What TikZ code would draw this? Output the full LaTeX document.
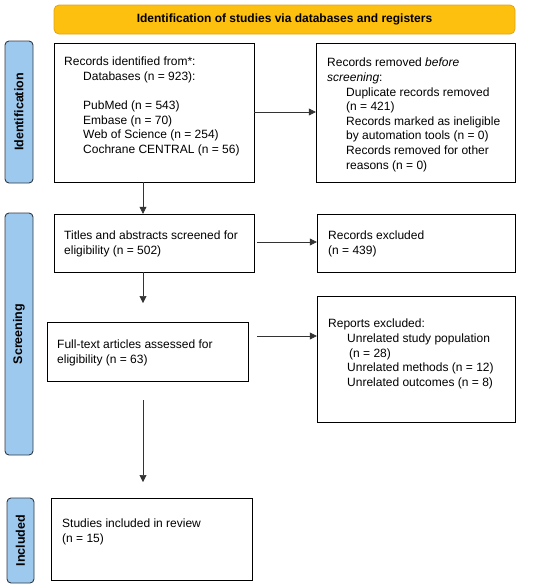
\documentclass[tikz,border=0pt]{standalone}
\usepackage{fontspec}
\setmainfont{Liberation Sans}
\usetikzlibrary{arrows.meta}
\definecolor{bannerfill}{HTML}{FDC00F}
\definecolor{bannerline}{HTML}{E3A317}
\definecolor{sidefill}{HTML}{9DC9EE}
\definecolor{sideline}{HTML}{2F3A45}
\begin{document}
\begin{tikzpicture}[x=1pt,y=-1pt,
  box/.style={draw=black, line width=0.9pt, fill=white},
  txt/.style={anchor=north west, align=left, font=\fontsize{12}{14.6}\selectfont, inner sep=0pt},
  side/.style={draw=sideline, line width=0.9pt, fill=sidefill, rounded corners=4pt},
  sidetxt/.style={rotate=90, font=\fontsize{12.5}{14}\selectfont\bfseries},
  arr/.style={draw=black!80, line width=0.6pt, -{Triangle[length=7pt,width=7pt]}}]
\useasboundingbox (0,0) rectangle (550,587);
% banner
\draw[draw=bannerline, fill=bannerfill, line width=0.8pt, rounded corners=5pt] (54,5) rectangle (515,34);
\node[font=\fontsize{12}{14}\selectfont\bfseries] (banner) at (284.5,19.5) {Identification of studies via databases and registers};
% side labels
\draw[side] (5,41) rectangle (33,183);
\node[sidetxt] (lid) at (19,112) {Identification};
\draw[side] (5,213) rectangle (33,455);
\node[sidetxt] (lsc) at (19,334) {Screening};
\draw[side] (7,498) rectangle (34,583);
\node[sidetxt] (lin) at (20.5,540.5) {Included};
% boxes
\draw[box] (54,43) rectangle (254,182);
\node (b1) at (154,112.5) [minimum width=200, minimum height=139] {};
\node[txt] (t1) at (64,57) {Records identified from*:\\
\hspace{19pt}Databases (n = 923):\\[14.6pt]
\hspace{19pt}PubMed (n = 543)\\
\hspace{19pt}Embase (n = 70)\\
\hspace{19pt}Web of Science (n = 254)\\
\hspace{19pt}Cochrane CENTRAL (n = 56)};
\draw[box] (316,43) rectangle (515,182);
\node (b2) at (415.5,112.5) [minimum width=199, minimum height=139] {};
\node[txt] (t2) at (327,58) {Records removed \textit{before}\\
\textit{screening}:\\
\hspace{19pt}Duplicate records removed\\
\hspace{19pt}(n = 421)\\
\hspace{19pt}Records marked as ineligible\\
\hspace{19pt}by automation tools (n = 0)\\
\hspace{19pt}Records removed for other\\
\hspace{19pt}reasons (n = 0)};
\draw[box] (54,214) rectangle (254,272);
\node (b3) at (154,243) [minimum width=200, minimum height=58] {};
\node[txt] (t3) at (64,231) {Titles and abstracts screened for\\eligibility (n = 502)};
\draw[box] (317,214) rectangle (515,272);
\node (b4) at (416,243) [minimum width=198, minimum height=58] {};
\node[txt] (t4) at (328,231) {Records excluded\\(n = 439)};
\draw[box] (47,322) rectangle (248,381);
\node (b5) at (147.5,351.5) [minimum width=201, minimum height=59] {};
\node[txt] (t5) at (57,340) {Full-text articles assessed for\\eligibility (n = 63)};
\draw[box] (317,296) rectangle (515,422);
\node (b6) at (416,359) [minimum width=198, minimum height=126] {};
\node[txt] (t6) at (328,319) {Reports excluded:\\
\hspace{19pt}Unrelated study population\\
\hspace{21pt}(n = 28)\\
\hspace{19pt}Unrelated methods (n = 12)\\
\hspace{19pt}Unrelated outcomes (n = 8)};
\draw[box] (51,498) rectangle (252,580);
\node (b7) at (151.5,539) [minimum width=201, minimum height=82] {};
\node[txt] (t7) at (62,519) {Studies included in review\\(n = 15)};
% connectors
\coordinate (c1) at (143,182);
\coordinate (c3) at (143,272);
\coordinate (c5) at (143,400);
\coordinate (s2) at (257,242);
\coordinate (s5) at (257,336);
\draw[arr] (c1) -- (b3.north -| c1);
\draw[arr] (c3) -- (143,303);
\draw[arr] (c5) -- (143,482);
\draw[arr] (b1.east |- 0,112) -- (b2.west |- 0,112);
\draw[arr] (s2) -- (b4.west |- s2);
\draw[arr] (s5) -- (b6.west |- s5);
\end{tikzpicture}
\end{document}
